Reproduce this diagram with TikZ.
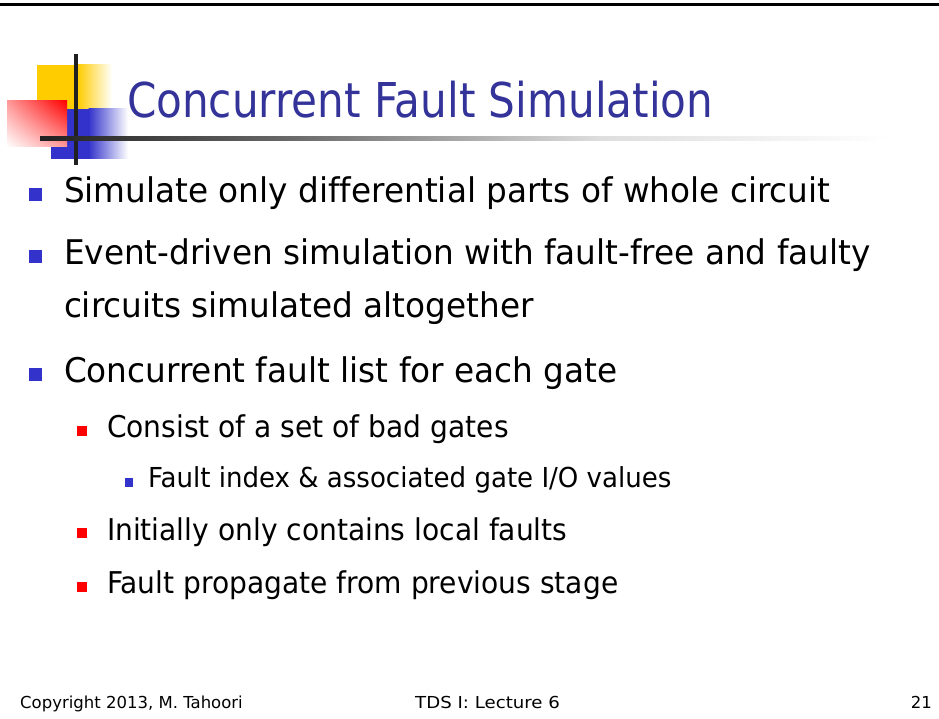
\documentclass[tikz,border=0pt]{standalone}
\usepackage{fontspec}
\usetikzlibrary{shadings}
\setmainfont{DejaVu Sans}[Ligatures=CommonOff]
\newfontfamily\titlefont{DejaVu Sans}[FakeStretch=0.878, Ligatures=CommonOff]
\newfontfamily\onefont{DejaVu Sans}[FakeStretch=0.962, Ligatures=CommonOff]
\newfontfamily\twofont{DejaVu Sans}[FakeStretch=0.937, Ligatures=CommonOff]
\newfontfamily\threefont{DejaVu Sans}[FakeStretch=0.947, Ligatures=CommonOff]
\newfontfamily\footfont{DejaVu Sans}[Ligatures=CommonOff]
\newfontfamily\footwidefont{DejaVu Sans}[FakeStretch=1.1, Ligatures=CommonOff]
\definecolor{titleblue}{HTML}{333399}
\definecolor{bulletblue}{HTML}{3333CC}
\definecolor{bulletred}{HTML}{FF0000}
\definecolor{decoyellow}{HTML}{FFCC00}
\definecolor{rulegray}{HTML}{202020}
\tikzset{
  txt/.style={anchor=base west, inner sep=0pt, outer sep=0pt},
  lvlone/.style={txt, font=\onefont\fontsize{34}{40}\selectfont},
  lvltwo/.style={txt, font=\twofont\fontsize{30}{36}\selectfont},
  lvlthree/.style={txt, font=\threefont\fontsize{27.5}{33}\selectfont},
  foot/.style={anchor=base, inner sep=0pt, font=\footfont\fontsize{16.5}{20}\selectfont},
}
\begin{document}
\begin{tikzpicture}[x=1pt,y=-1pt]
\useasboundingbox (0,0) rectangle (939,719);
\fill[white] (0,0) rectangle (939,719);
% top border
\fill[black] (0,3.5) rectangle (939,6.5);

% title ornament
\fill[decoyellow] (37,65) rectangle (78,109);
\shade[left color=decoyellow, right color=white] (77.5,65) rectangle (112,109);
\fill[bulletblue] (51,109) rectangle (89,159);
\shade[left color=bulletblue, right color=white] (88.5,109) rectangle (128,159);
\shade[upper right=bulletred, lower left=white, upper left=bulletred!40!white, lower right=bulletred!40!white] (7,101) rectangle (67,147);
\fill[rulegray] (74,54) rectangle (78,165);
\shade[left color=rulegray, right color=gray!85!black] (40,136.5) rectangle (300.5,140.8);
\shade[left color=gray!85!black, right color=black!13] (300,136.5) rectangle (600.5,140.8);
\shade[left color=black!13, right color=white] (600,136.5) rectangle (890,140.8);

% title
\node[txt, text=titleblue, font=\titlefont\fontsize{48}{56}\selectfont] (title) at (127,118) {Concurrent Fault Simulation};

% first-level bullets
\fill[bulletblue] (29,188) rectangle (42,201);
\node[lvlone] (b1) at (64,203) {Simulate only differential parts of whole circuit};
\fill[bulletblue] (29,250) rectangle (42,263);
\node[lvlone] (b2) at (64,265) {Event-driven simulation with fault-free and faulty};
\node[lvlone] (b2b) at (64,317) {circuits simulated altogether};
\fill[bulletblue] (29,368) rectangle (42,381);
\node[lvlone] (b3) at (64,382) {Concurrent fault list for each gate};

% second-level bullets
\fill[bulletred] (77,426) rectangle (87,436);
\node[lvltwo] (c1) at (107,437) {Consist of a set of bad gates};
\fill[bulletblue] (125,478) rectangle (133,487);
\node[lvlthree] (d1) at (148,487) {Fault index \& associated gate I/O values};
\fill[bulletred] (77,528) rectangle (87,538);
\node[lvltwo] (c2) at (107,540) {Initially only contains local faults};
\fill[bulletred] (77,582) rectangle (87,592);
\node[lvltwo] (c3) at (107,593) {Fault propagate from previous stage};

% footer
\node[foot, anchor=base west] (f1) at (20,708) {Copyright 2013, M. Tahoori};
\node[foot, font=\footwidefont\fontsize{16.5}{20}\selectfont, anchor=base west] (f2) at (415,708) {TDS I:\ Lecture 6};
\node[foot, anchor=base east] (f3) at (932,708) {21};
\end{tikzpicture}
\end{document}
